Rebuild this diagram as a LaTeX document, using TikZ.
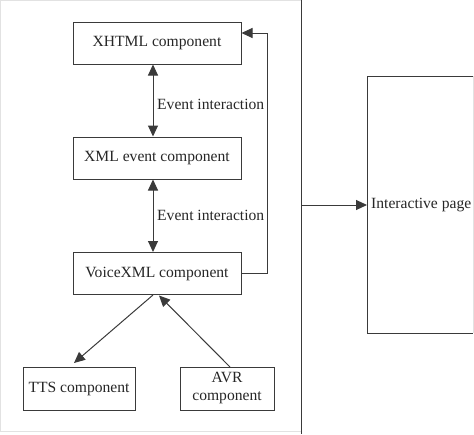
\documentclass[tikz,border=0pt]{standalone}
\usepackage{fontspec}
\setmainfont{Liberation Serif}
\usetikzlibrary{arrows.meta}
\definecolor{ln}{HTML}{3A3A3A}
\definecolor{lg}{HTML}{E2E2E2}
\begin{document}
\begin{tikzpicture}[x=1pt,y=-1pt,
  comp/.style={draw=ln,line width=1pt,minimum width=168pt,minimum height=42pt,inner sep=2pt,font=\fontsize{15.6}{17}\selectfont,text=black!85},
  small/.style={draw=ln,line width=1pt,minimum height=43pt,inner sep=2pt,font=\fontsize{15.6}{17}\selectfont,text=black!85,align=center},
  lab/.style={font=\fontsize{15.6}{17}\selectfont,text=black!85,anchor=west,inner sep=0pt},
  conn/.style={draw=ln,line width=1pt},
  tip/.style={-{Triangle[length=11pt,width=10pt]}},
  dtip/.style={{Triangle[length=11pt,width=10pt]}-{Triangle[length=11pt,width=10pt]}}]
\useasboundingbox (0,0) rectangle (474,434);
% outer frame
\draw[lg,line width=0.8pt] (301,0.8) -- (0.8,0.8) -- (0.8,431.5) -- (301,431.5);
\draw[conn] (301,0) coordinate (ftop) -- (301,434) coordinate (fbot);
% interactive page box
\draw[lg,line width=0.8pt] (473,76) -- (473,333);
\draw[conn] (473,76) -- (367,76) -- (367,333) -- (473,333);
\coordinate (ipl) at (367,205);
\node[lab] (ip) at (371,205) {Interactive page};
\coordinate (fr) at (301,205);
\draw[conn,tip] (fr) -- (ipl);
% components
\node[comp] (xhtml) at (157,43) {XHTML component};
\node[comp] (xmlev) at (157,158) {XML event component};
\node[comp] (voice) at (157,273.5) {VoiceXML component};
\node[small,minimum width=112pt] (tts) at (79,388.5) {TTS component};
\node[small,minimum width=94pt,font=\fontsize{15.6}{18}\selectfont] (avr) at (227,388.5) {AVR\\component};
% event interactions
\draw[conn,dtip] ([xshift=-4pt]xhtml.south) -- ([xshift=-4pt]xmlev.north);
\node[lab] (e1) at (157,104) {Event interaction};
\draw[conn,dtip] ([xshift=-4pt]xmlev.south) -- ([xshift=-4pt]voice.north);
\node[lab] (e2) at (157,215) {Event interaction};
% feedback loop
\coordinate (c1) at (267,273);
\coordinate (c2) at (267,33);
\draw[conn,tip] (voice.east |- c1) -- (c1) -- (c2) -- (xhtml.east |- c2);
% TTS / AVR
\coordinate (vb1) at (153,295);
\coordinate (tt) at (74,363);
\draw[conn,tip] (vb1) -- (tt);
\coordinate (vb2) at (159,295.5);
\coordinate (av) at (230,367);
\draw[conn,tip] (av) -- (vb2);
\end{tikzpicture}
\end{document}
